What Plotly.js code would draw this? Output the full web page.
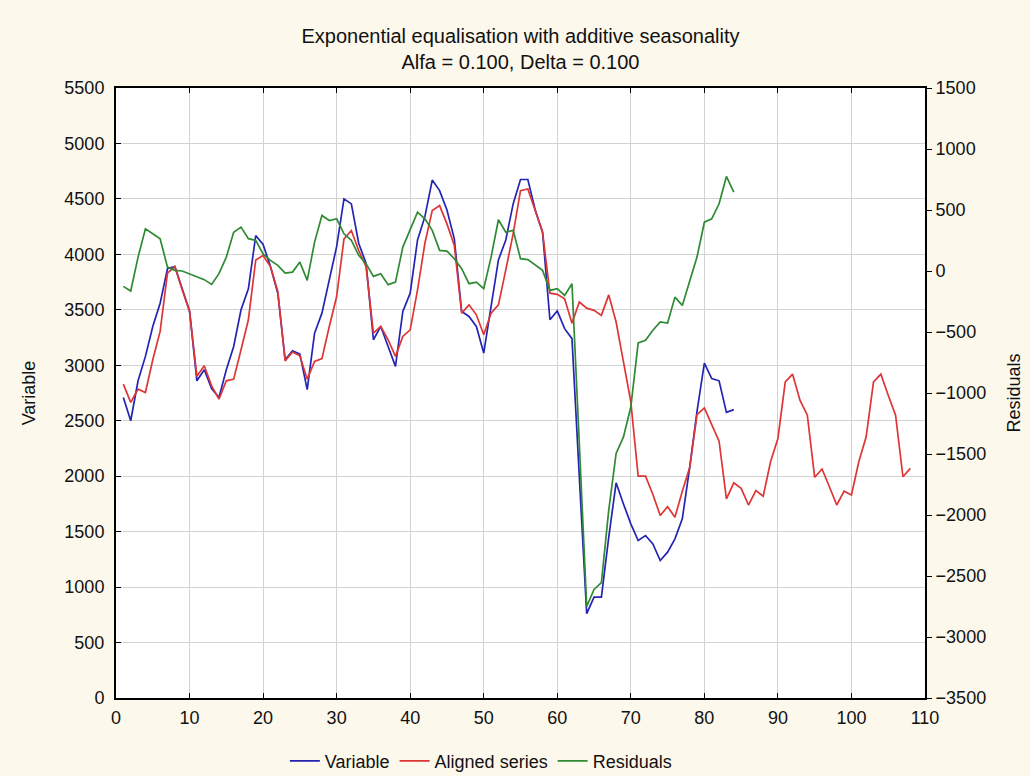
<!DOCTYPE html>
<html>
<head>
<meta charset="utf-8">
<script src="https://cdn.plot.ly/plotly-3.0.1.min.js"></script>
<style>html,body{margin:0;padding:0;background:#fcf8ec;}#chart{width:1030px;height:776px;}</style>
</head>
<body>
<div id="chart"></div>
<script>
const variable = [2710,2500,2860,3080,3350,3560,3870,3890,3690,3490,
2860,2960,2790,2710,2960,3170,3500,3690,4170,4090,
3890,3650,3050,3130,3100,2780,3290,3470,3770,4070,
4500,4455,4100,3920,3230,3350,3170,2990,3485,3650,
4130,4340,4670,4575,4400,4140,3485,3440,3350,3110,
3530,3950,4130,4455,4675,4675,4400,4200,3410,3490,
3330,3240,1990,760,910,910,1450,1940,1750,1570,
1420,1465,1390,1240,1315,1435,1615,2075,2585,3020,
2880,2860,2575,2600];
const aligned = [2830,2665,2785,2755,3050,3305,3830,3890,3680,3485,
2900,2995,2815,2695,2860,2875,3140,3410,3950,3990,
3890,3665,3040,3120,3085,2875,3035,3060,3350,3620,
4140,4215,4035,3890,3290,3350,3230,3080,3260,3320,
3680,4100,4395,4440,4275,4080,3470,3545,3455,3275,
3470,3545,3860,4185,4575,4590,4395,4200,3650,3640,
3600,3380,3570,3515,3495,3450,3635,3390,3030,2670,
2000,2000,1835,1645,1725,1630,1865,2075,2555,2615,
2465,2315,1795,1940,1890,1740,1870,1820,2130,2340,
2850,2920,2685,2550,1990,2065,1905,1740,1865,1830,
2130,2355,2850,2920,2730,2550,1995,2070];
const residuals = [-126,-164,114,346,305,265,32,5,0,-22,
-50,-71,-110,-22,114,318,360,265,251,140,
87,46,-17,-9,73,-77,237,455,414,428,
305,251,128,60,-44,-22,-112,-91,196,346,
482,428,333,169,163,101,19,-104,-91,-145,
114,420,318,333,101,93,46,5,-159,-145,
-200,-104,-1420,-2750,-2610,-2555,-1960,-1495,-1360,-1115,
-590,-568,-486,-418,-427,-214,-282,-77,114,400,
428,551,775,646];
const seriesNames = ["Variable","Aligned series","Residuals"];
const titleLines = ["Exponential equalisation with additive seasonality","Alfa = 0.100, Delta = 0.100"];

const periods = arr => arr.map((_, i) => i + 1);
const font = "Liberation Sans, Arial, sans-serif";

const traces = [
  {x: periods(variable), y: variable, name: seriesNames[0], type: "scatter", mode: "lines",
   line: {color: "#2424b4", width: 1.7}},
  {x: periods(aligned), y: aligned, name: seriesNames[1], type: "scatter", mode: "lines",
   line: {color: "#de3535", width: 1.7}},
  {x: periods(residuals), y: residuals, name: seriesNames[2], type: "scatter", mode: "lines", yaxis: "y2",
   line: {color: "#2f8a34", width: 1.7}}
];

const layout = {
  width: 1030, height: 776,
  paper_bgcolor: "#fcf8ec", plot_bgcolor: "#ffffff",
  margin: {l: 116, r: 105, t: 88, b: 78, autoexpand: false},
  font: {family: font, size: 18, color: "#111"},
  title: {text: titleLines.join("<br>"), font: {family: font, size: 20, color: "#111"},
          x: 0.5, xref: "paper", y: 0.944, yref: "container", yanchor: "top"},
  showlegend: true,
  legend: {orientation: "h", x: 0.451, xanchor: "center", xref: "paper",
           y: 0.019, yref: "container", yanchor: "middle",
           font: {family: font, size: 18, color: "#111"}, bgcolor: "rgba(0,0,0,0)", itemwidth: 30, traceorder: "normal"},
  xaxis: {range: [0, 110], dtick: 10, tick0: 0, showgrid: true, gridcolor: "#d2d2d2", gridwidth: 1,
          zeroline: false, showline: true, linecolor: "#000", linewidth: 2, mirror: "ticks",
          ticks: "inside", ticklen: 5, tickcolor: "#000", tickfont: {size: 18}, ticklabelstandoff: 2},
  yaxis: {range: [0, 5500], dtick: 500, tick0: 0, showgrid: true, gridcolor: "#d2d2d2", gridwidth: 1,
          zeroline: false, showline: true, linecolor: "#000", linewidth: 2,
          ticks: "inside", ticklen: 5, tickcolor: "#000", tickfont: {size: 18}, ticklabelstandoff: 6,
          title: {text: seriesNames[0], font: {size: 18}, standoff: 24}},
  yaxis2: {range: [-3500, 1500], dtick: 500, tick0: -3500, overlaying: "y", side: "right",
           showgrid: false, zeroline: false, showline: true, linecolor: "#000", linewidth: 2,
           ticks: "outside", ticklen: 5, tickcolor: "#000", tickfont: {size: 18},
           title: {text: seriesNames[2], font: {size: 18}, standoff: 22}}
};

Plotly.newPlot("chart", traces, layout, {displayModeBar: false, staticPlot: true});
</script>
</body>
</html>
